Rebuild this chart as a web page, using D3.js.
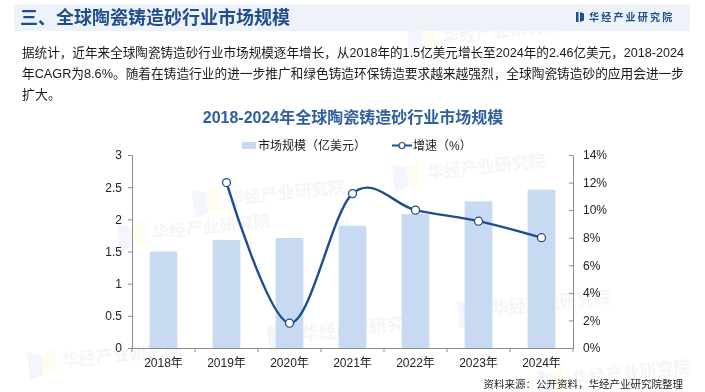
<!DOCTYPE html>
<html>
<head>
<meta charset="utf-8">
<script src="https://cdn.jsdelivr.net/npm/d3@7/dist/d3.min.js"></script>
<style>
  body { margin: 0; background: #fff; }
  text { font-family: "Liberation Sans", "Noto Sans CJK SC", sans-serif; }
</style>
</head>
<body>
<div id="chart"></div>
<script>
// data
var years = ["2018年", "2019年", "2020年", "2021年", "2022年", "2023年", "2024年"];
var marketSize = [1.5, 1.68, 1.71, 1.9, 2.08, 2.28, 2.46];
var growth = [null, 12.0, 1.8, 11.2, 10.0, 9.2, 8.0];
var leftTicks = [0, 0.5, 1, 1.5, 2, 2.5, 3];
var rightTicks = [0, 2, 4, 6, 8, 10, 12, 14];

var width = 705, height = 392;
var barColor = "#c8daf2", lineColor = "#1f4e8c", axisColor = "#8c8c8c";

var svg = d3.select("#chart").append("svg")
      .attr("width", width)
      .attr("height", height);

// faint watermarks
var marks = [[455, 172], [255, 198], [180, 232], [330, 333], [520, 308], [600, 378], [90, 360], [470, 36]];
var wm = svg.append("g").attr("opacity", 0.06);
marks.forEach(function (m) {
      var g = wm.append("g").attr("transform", "translate(" + m[0] + "," + m[1] + ") rotate(-6)");
      g.append("path").attr("d", "M-62,-14 L-48,-10 L-48,10 L-62,14 Z").attr("fill", "#3a6fc4");
      g.append("path").attr("d", "M-48,-10 L-34,-16 L-34,8 L-48,10 Z").attr("fill", "#f2c200");
      g.append("text").attr("x", -28).attr("y", 4).attr("font-size", 17).attr("font-weight", "bold")
            .attr("fill", "#555").text("华经产业研究院");
});

// header band
svg.append("rect").attr("x", 14).attr("y", 4).attr("width", 676).attr("height", 27).attr("fill", "#eef3fa");
svg.append("text").attr("x", 20).attr("y", 24).attr("font-size", 18).attr("font-weight", "bold")
      .attr("fill", "#1f4e8c").text("三、全球陶瓷铸造砂行业市场规模");
svg.append("rect").attr("x", 576).attr("y", 12).attr("width", 2.5).attr("height", 10).attr("fill", "#1f4e8c");
svg.append("path").attr("d", "M580,12 L584,13.5 L584,20.5 L580,22 Z").attr("fill", "#1f4e8c");
svg.append("text").attr("x", 589).attr("y", 21).attr("font-size", 10).attr("font-weight", "bold")
      .attr("letter-spacing", 2.2).attr("fill", "#1f4e8c").text("华经产业研究院");

// paragraph
var para = [
      "据统计，近年来全球陶瓷铸造砂行业市场规模逐年增长，从2018年的1.5亿美元增长至2024年的2.46亿美元，2018-2024",
      "年CAGR为8.6%。随着在铸造行业的进一步推广和绿色铸造环保铸造要求越来越强烈，全球陶瓷铸造砂的应用会进一步",
      "扩大。"
];
para.forEach(function (t, i) {
      var tx = svg.append("text").attr("x", 22).attr("y", 57 + i * 21).attr("font-size", 13)
            .attr("fill", "#1a1a1a").text(t);
      if (i < 2) tx.attr("textLength", 662).attr("lengthAdjust", "spacingAndGlyphs");
});

// chart title
svg.append("text").attr("x", 353).attr("y", 123).attr("text-anchor", "middle")
      .attr("font-size", 16).attr("font-weight", "bold").attr("fill", "#2f5f9e")
      .text("2018-2024年全球陶瓷铸造砂行业市场规模");

// legend
var leg = svg.append("g").attr("font-size", 12).attr("fill", "#222");
leg.append("rect").attr("x", 242).attr("y", 142).attr("width", 14).attr("height", 7).attr("fill", barColor);
leg.append("text").attr("x", 258).attr("y", 150).text("市场规模（亿美元）");
leg.append("line").attr("x1", 392).attr("x2", 412).attr("y1", 145.5).attr("y2", 145.5)
      .attr("stroke", lineColor).attr("stroke-width", 2);
leg.append("circle").attr("cx", 402).attr("cy", 145.5).attr("r", 3).attr("fill", "#fff")
      .attr("stroke", lineColor).attr("stroke-width", 1.2);
leg.append("text").attr("x", 413).attr("y", 150).text("增速（%）");

// scales
var x = d3.scaleBand().domain(years).range([132, 573]);
var yL = d3.scaleLinear().domain([0, 3]).range([348, 155]);
var yR = d3.scaleLinear().domain([0, 14]).range([348, 155]);

// bars
var barW = x.bandwidth() * 0.44;
svg.append("g").selectAll("rect").data(marketSize).enter().append("rect")
      .attr("x", function (d, i) { return x(years[i]) + (x.bandwidth() - barW) / 2; })
      .attr("y", function (d) { return yL(d); })
      .attr("width", barW)
      .attr("height", function (d) { return yL(0) - yL(d); })
      .attr("fill", barColor);

// axes
function styleAxis(g) {
      g.selectAll("path, line").attr("stroke", axisColor);
      g.selectAll("text").attr("fill", "#222").attr("font-size", 12)
            .attr("font-family", "'Liberation Sans', 'Noto Sans CJK SC', sans-serif");
}
svg.append("g").attr("transform", "translate(132,0)")
      .call(d3.axisLeft(yL).tickValues(leftTicks).tickSizeOuter(0).tickSize(4).tickPadding(6)
            .tickFormat(function (d) { return d; }))
      .call(styleAxis);
svg.append("g").attr("transform", "translate(573,0)")
      .call(d3.axisRight(yR).tickValues(rightTicks).tickSize(-4).tickSizeOuter(0).tickPadding(10)
            .tickFormat(function (d) { return d + "%"; }))
      .call(styleAxis);
var xg = svg.append("g").attr("transform", "translate(0,348)")
      .call(d3.axisBottom(x).tickSize(0).tickPadding(10))
      .call(styleAxis);
xg.selectAll(".bound").data(years.concat([null])).enter().append("line")
      .attr("x1", function (d) { return d ? x(d) : x.range()[1]; })
      .attr("x2", function (d) { return d ? x(d) : x.range()[1]; })
      .attr("y1", 0).attr("y2", 4).attr("stroke", axisColor);

// growth line
var pts = growth.map(function (d, i) { return { y: years[i], v: d }; }).filter(function (d) { return d.v !== null; });
var line = d3.line()
      .x(function (d) { return x(d.y) + x.bandwidth() / 2; })
      .y(function (d) { return yR(d.v); })
      .curve(d3.curveCatmullRom.alpha(0));
svg.append("path").datum(pts).attr("d", line).attr("fill", "none")
      .attr("stroke", lineColor).attr("stroke-width", 2.4);
svg.append("g").selectAll("circle").data(pts).enter().append("circle")
      .attr("cx", function (d) { return x(d.y) + x.bandwidth() / 2; })
      .attr("cy", function (d) { return yR(d.v); })
      .attr("r", 4).attr("fill", "#fff").attr("stroke", lineColor).attr("stroke-width", 1.3);

// footer
svg.append("text").attr("x", 683).attr("y", 388).attr("text-anchor", "end")
      .attr("font-size", 10.5).attr("fill", "#222").text("资料来源：公开资料，华经产业研究院整理");
</script>
</body>
</html>
